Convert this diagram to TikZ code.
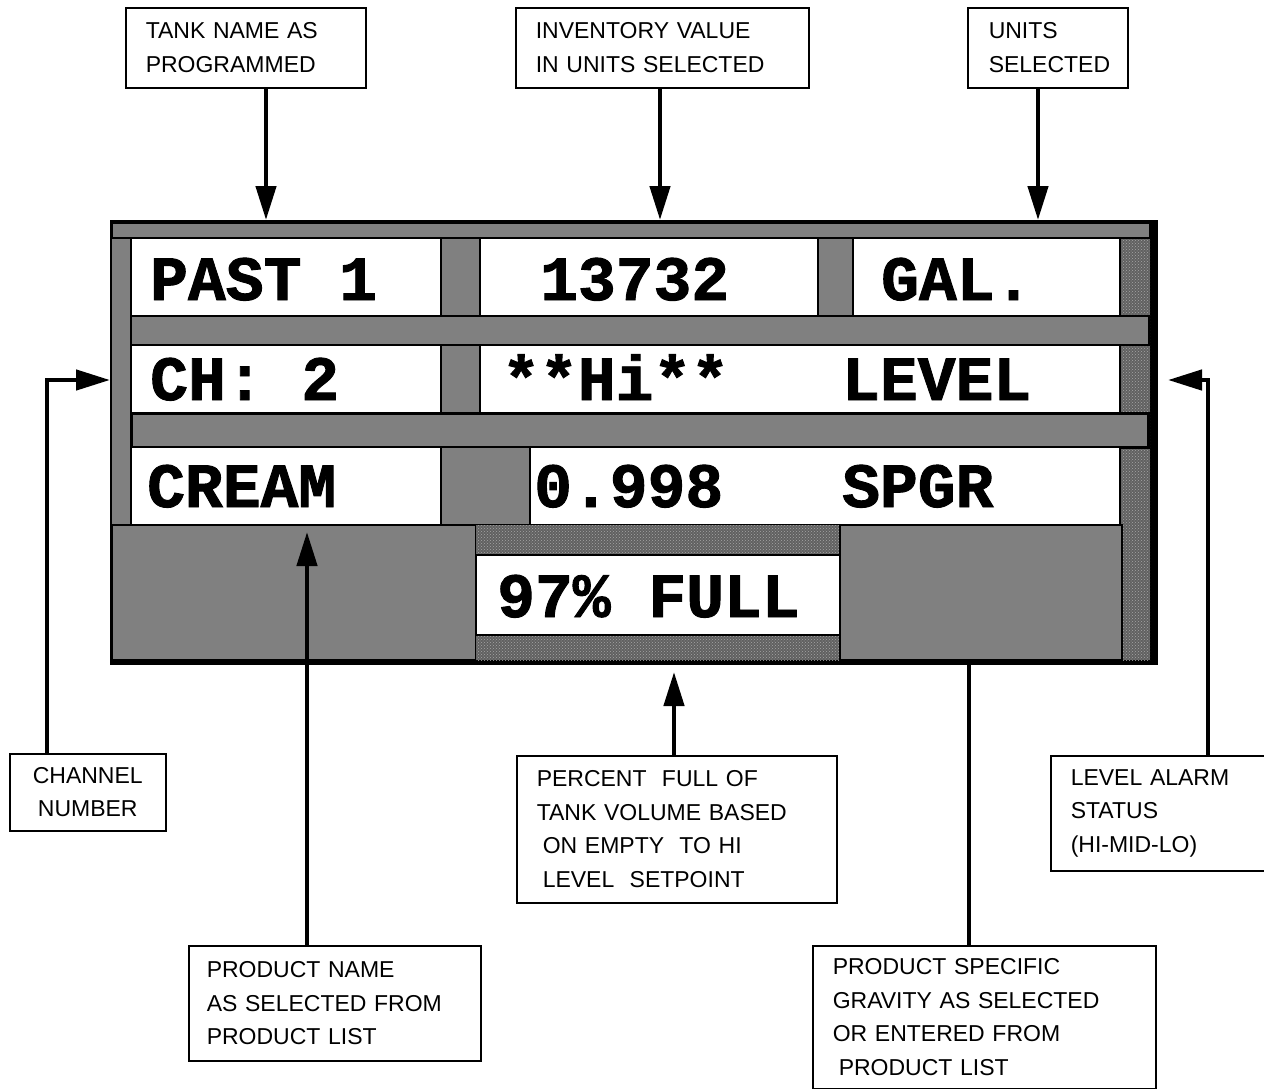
\documentclass[tikz,border=0pt]{standalone}
\usepackage{fontspec}
\newfontfamily\lblfont{Liberation Sans}
\newfontfamily\lcdfont{Liberation Mono}[BoldFeatures={FakeBold=1.5}]
\usetikzlibrary{positioning, arrows.meta, patterns}

\tikzset{
  lbl/.style={draw, line width=1.5pt, fill=white, anchor=north west,
    font=\lblfont\fontsize{23}{33.5}\selectfont, align=left,
    inner xsep=20pt, inner ysep=0pt},
  lcd/.style={font=\lcdfont\bfseries\fontsize{63}{63}\selectfont,
    anchor=base west, inner sep=0pt},
  cell/.style={draw, line width=1.2pt, fill=white},
  band/.style={draw, line width=1.2pt, fill=gray},
  dots/.style={fill=black!62, postaction={pattern=crosshatch dots, pattern color=black!35}},
  pointer/.style={line width=4.5pt, -{Triangle[length=34pt, width=20pt]}},
}

\begin{document}
\begin{tikzpicture}[x=1pt, y=-1pt]
  \useasboundingbox (0,0) rectangle (1264,1088);

  % display frame
  \fill[black] (110,220) rectangle (1158,665);
  \fill[gray] (112,223) rectangle (1150,660);
  \fill[dots] (1120,238) rectangle (1150,660);
  \draw[band] (112,223) rectangle (1150,238);

  % row 1
  \draw[cell] (131,238) rectangle (441,316);
  \draw[cell] (480,238) rectangle (818,316);
  \draw[cell] (853,238) rectangle (1120,316);
  \draw[band] (131,316) rectangle (1149,345);
  % row 2
  \draw[cell] (131,345) rectangle (441,413);
  \draw[cell] (480,345) rectangle (1120,413);
  \draw[band, line width=3pt] (131,413) rectangle (1148,447);
  % row 3
  \draw[cell] (131,447) rectangle (441,525);
  \draw[band] (441,447) rectangle (530,525);
  \draw[cell] (530,447) rectangle (1120,525);
  % bottom row
  \draw[band] (112,525) rectangle (476,660);
  \fill[dots] (476,525) rectangle (840,660);
  \draw[cell] (476,555) rectangle (840,635);
  \draw[band] (840,525) rectangle (1122,660);

  % display readings
  \node[lcd] (lcdTank) at (150,300) {PAST 1};
  \node[lcd] (lcdInv) at (540,300) {13732};
  \node[lcd] (lcdUnits) at (881,300) {GAL.};
  \node[lcd] (lcdChan) at (150,400) {CH: 2};
  \node[lcd] (lcdHi) at (502,400) {**Hi**};
  \node[lcd] (lcdLevel) at (842,400) {LEVEL};
  \node[lcd] (lcdProd) at (147,507) {CREAM};
  \node[lcd] (lcdSg) at (534,507) {0.998};
  \node[lcd] (lcdSpgr) at (842,507) {SPGR};
  \node[lcd] (lcdPct) at (497,617) {97\% FULL};

  % where the pointers meet the display
  \coordinate (tankIn) at (266,220);
  \coordinate (invIn) at (660,220);
  \coordinate (unitsIn) at (1038,220);
  \coordinate (chanBend) at (47,380);
  \coordinate (chanIn) at (110,380);
  \coordinate (alarmBend) at (1208,380);
  \coordinate (alarmIn) at (1168,380);
  \coordinate (prodIn) at (307,532);
  \coordinate (pctIn) at (674,672);
  \coordinate (sgIn) at (969,665);

  % label boxes
  \node[lbl, text width=200pt, minimum height=80pt] (tank) at (125,7)
    {TANK NAME AS\\PROGRAMMED};
  \node[lbl, text width=253pt, minimum height=80pt] (inv) at (515,7)
    {INVENTORY VALUE\\IN UNITS SELECTED};
  \node[lbl, text width=118pt, minimum height=80pt, inner xsep=21pt] (units) at (967,7)
    {UNITS\\SELECTED};
  \node[lbl, text width=116pt, minimum height=77pt, align=center] (chan) at (9,753)
    {CHANNEL\\NUMBER};
  \node[lbl, text width=280pt, minimum height=147pt] (pct) at (516,755)
    {PERCENT\ \ FULL OF\\TANK VOLUME BASED\\\hspace*{6pt}ON EMPTY\ \ TO HI\\\hspace*{6pt}LEVEL\ \ SETPOINT};
  \node[lbl, text width=256pt, minimum height=115pt, inner xsep=18pt] (prod) at (188,945)
    {PRODUCT NAME\\AS SELECTED FROM\\PRODUCT LIST};
  \node[lbl, text width=303pt, minimum height=143pt] (sg) at (812,945)
    {PRODUCT SPECIFIC\\GRAVITY AS SELECTED\\OR ENTERED FROM\\\hspace*{6pt}PRODUCT LIST};
  \node[lbl, text width=190pt, minimum height=115pt] (alarm) at (1050,755)
    {LEVEL ALARM\\STATUS\\(HI-MID-LO)};

  % pointers
  \draw[pointer] (tank.south -| tankIn) -- (tankIn);
  \draw[pointer] (inv.south -| invIn) -- (invIn);
  \draw[pointer] (units.south -| unitsIn) -- (unitsIn);
  \draw[pointer] (chan.north -| chanBend) -- (chanBend) -- (chanIn);
  \draw[pointer] (alarm.north -| alarmBend) -- (alarmBend) -- (alarmIn);
  \draw[pointer] (prod.north -| prodIn) -- (prodIn);
  \draw[pointer] (pct.north -| pctIn) -- (pctIn);
  \draw[line width=4.5pt] (sg.north -| sgIn) -- (sgIn);
\end{tikzpicture}
\end{document}
